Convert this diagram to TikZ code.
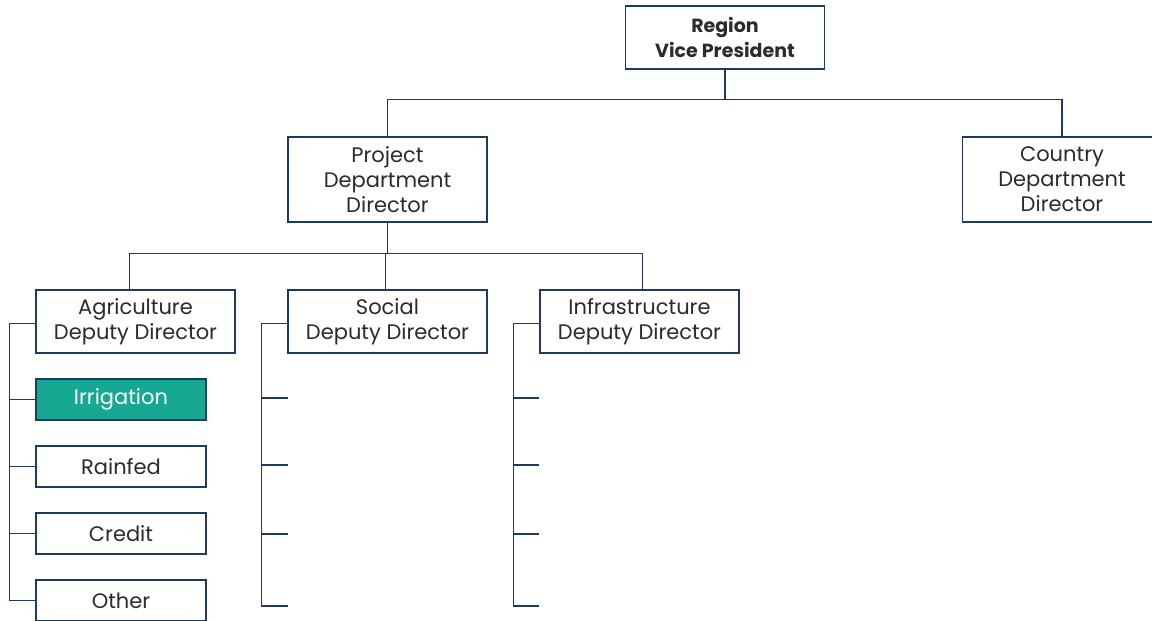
\documentclass[tikz,border=0pt]{standalone}
\usepackage{fontspec}
\setmainfont{Poppins}
\definecolor{lineblue}{HTML}{1F3A60}
\definecolor{txt}{HTML}{2B2B2B}
\definecolor{teal}{HTML}{17A893}
\begin{document}
\begin{tikzpicture}[x=1pt,y=-1pt,
  box/.style={draw=lineblue,line width=1.2pt,fill=white,align=center,text=txt,
    font=\fontsize{21}{25}\selectfont,inner sep=0pt},
  big/.style={box,minimum width=199pt,minimum height=63pt},
  tall/.style={box,minimum width=199pt,minimum height=85pt},
  small/.style={box,minimum width=170pt,minimum height=41pt},
  conn/.style={draw=lineblue,line width=1.2pt}]
\path[use as bounding box] (0,0) rectangle (1152,621);
\clip (0,0) rectangle (1152,621);
\node[big,font=\fontsize{19}{25}\selectfont\bfseries] (vp) at (725,37.5) {Region\\Vice President};
\node[tall] (pdd) at (387.5,179.5) {Project\\Department\\Director};
\node[tall] (cdd) at (1062,179.5) {Country\\Department\\Director};
\node[big] (agr) at (135.5,321.5) {Agriculture\\Deputy Director};
\node[big] (soc) at (387.5,321.5) {Social\\Deputy Director};
\node[big] (inf) at (639.5,321.5) {Infrastructure\\Deputy Director};
\node[small,fill=teal,text=white] (irr) at (121,399.5) {Irrigation};
\node[small] (rain) at (121,466.5) {Rainfed};
\node[small] (cred) at (121,533.5) {Credit};
\node[small] (oth) at (121,600.5) {Other};
\coordinate (s1) at (288,398);
\coordinate (s2) at (288,465);
\coordinate (s3) at (288,534);
\coordinate (s4) at (288,606);
\coordinate (i1) at (539,398);
\coordinate (i2) at (539,465);
\coordinate (i3) at (539,534);
\coordinate (i4) at (539,606);
\draw[conn] (vp.south) -- ++(0,30) -| (pdd.north);
\draw[conn] (vp.south) -- ++(0,30) -| (cdd.north);
\draw[conn] (pdd.south) -- ++(0,31) -| ([xshift=-6pt]agr.north);
\draw[conn] (pdd.south) -- ++(0,31) -| ([xshift=-2pt]soc.north);
\draw[conn] (pdd.south) -- ++(0,31) -| ([xshift=3pt]inf.north);
\draw[conn] ([yshift=-2pt]agr.west) -- ++(-26,0) |- (oth.west);
\draw[conn] (irr.west) -- ++(-26,0);
\draw[conn] (rain.west) -- ++(-26,0);
\draw[conn] (cred.west) -- ++(-26,0);
\draw[conn] ([yshift=-2pt]soc.west) -- ++(-26,0) |- (s4);
\draw[conn] (s1) -- ++(-26,0);
\draw[conn] (s2) -- ++(-26,0);
\draw[conn] (s3) -- ++(-26,0);
\draw[conn] ([yshift=-2pt]inf.west) -- ++(-26,0) |- (i4);
\draw[conn] (i1) -- ++(-26,0);
\draw[conn] (i2) -- ++(-26,0);
\draw[conn] (i3) -- ++(-26,0);
\end{tikzpicture}
\end{document}
